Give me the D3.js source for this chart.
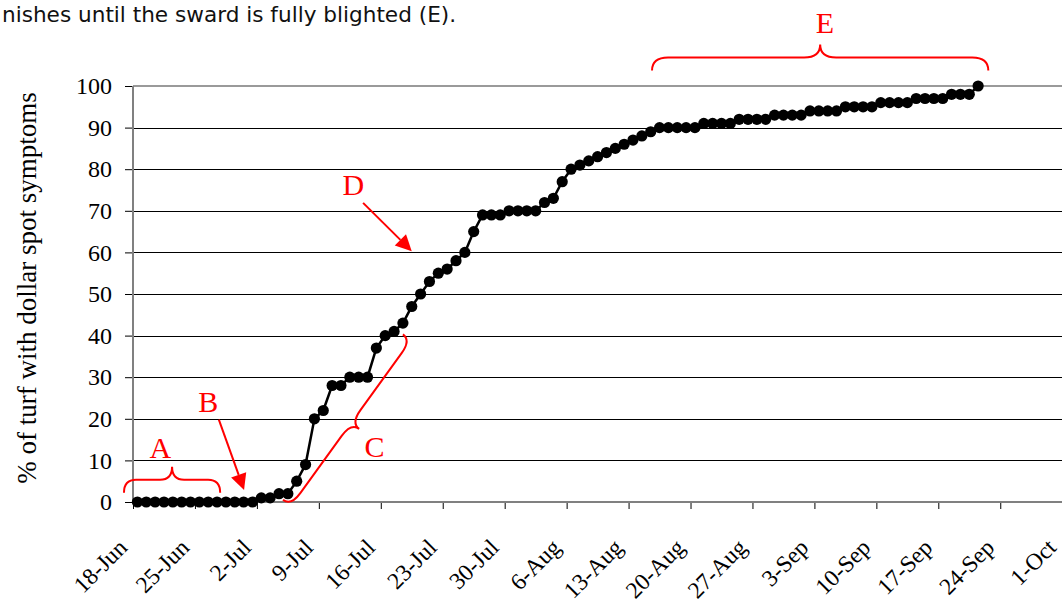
<!DOCTYPE html>
<html>
<head>
<meta charset="utf-8">
<script src="https://cdn.jsdelivr.net/npm/d3@7/dist/d3.min.js"></script>
<style>
  html, body { margin: 0; padding: 0; background: #fff; overflow: hidden; }
  svg { display: block; }
</style>
</head>
<body>
<svg id="chart" width="1062" height="603"></svg>
<script>
// ---------------- data ----------------
const startDay = "2004-06-18";            // first observation (18-Jun)
const pctTurf = [
  0,0,0,0,0,0,0,0,0,0,0,0,0,0,
  1,1,2,2,5,9,20,22,28,28,
  30,30,30,37,40,41,43,47,50,53,
  55,56,58,60,65,69,69,69,70,70,
  70,70,72,73,77,80,81,82,83,84,
  85,86,87,88,89,90,90,90,90,90,
  91,91,91,91,92,92,92,92,93,93,
  93,93,94,94,94,94,95,95,95,95,
  96,96,96,96,97,97,97,97,98,98,
  98,100
];
const xTickLabels = ["18-Jun","25-Jun","2-Jul","9-Jul","16-Jul","23-Jul","30-Jul","6-Aug",
                     "13-Aug","20-Aug","27-Aug","3-Sep","10-Sep","17-Sep","24-Sep","1-Oct"];
const yTicks = [0,10,20,30,40,50,60,70,80,90,100];
const yTitle = "% of turf with dollar spot symptoms";
const captionText = "nishes until the sward is fully blighted (E).";
const annotationLetters = ["A","B","C","D","E"];

// ---------------- setup ----------------
const parse = d3.timeParse("%Y-%m-%d");
const t0 = parse(startDay);
const dates = pctTurf.map((v, i) => d3.timeDay.offset(t0, i));
const tickDates = xTickLabels.map((l, i) => d3.timeDay.offset(t0, i * 7));

const M = { left: 133, right: 1062.2, top: 86, bottom: 502 };
const x = d3.scaleTime().domain([t0, tickDates[tickDates.length - 1]]).range([M.left, M.right]);
const y = d3.scaleLinear().domain([0, 100]).range([M.bottom, M.top]);
const xc = d => x(d3.timeHour.offset(d, 12));   // points centred in their day slot
const xd = days => x(new Date(t0.getTime() + days * 864e5));

const svg = d3.select("#chart");
const serif = "Liberation Serif, Times New Roman, serif";
const red = "#ff0000";

// caption fragment at top
svg.append("text")
  .attr("x", 2).attr("y", 22)
  .style("font-family", "DejaVu Sans, Verdana, sans-serif")
  .style("font-size", "21.6px")
  .attr("fill", "#111")
  .text(captionText);

// gridlines
svg.append("g").selectAll("line").data(yTicks.filter(v => v > 0 && v < 100)).join("line")
  .attr("x1", M.left).attr("x2", 1062)
  .attr("y1", d => Math.round(y(d)) + 0.5).attr("y2", d => Math.round(y(d)) + 0.5)
  .attr("stroke", "#000").attr("stroke-width", 1);
// plot area top border
svg.append("line").attr("x1", M.left).attr("x2", 1062)
  .attr("y1", y(100)).attr("y2", y(100))
  .attr("stroke", "#9a9a9a").attr("stroke-width", 2);

// y axis
const yAxis = svg.append("g").attr("transform", `translate(${M.left},0)`)
  .call(d3.axisLeft(y).tickValues(yTicks).tickSize(8).tickPadding(13).tickFormat(d3.format("d")));
yAxis.select(".domain").remove();
yAxis.attr("font-family", null).attr("font-size", null);
yAxis.selectAll(".tick line").attr("stroke", "#000");
yAxis.selectAll("text").style("font-family", serif).style("font-size", "24px").attr("fill", "#000");

// x axis
const xAxis = svg.append("g").attr("transform", `translate(0,${M.bottom})`)
  .call(d3.axisBottom(x).tickValues(tickDates).tickSize(7).tickFormat((d, i) => xTickLabels[i]));
xAxis.select(".domain").remove();
xAxis.attr("font-family", null).attr("font-size", null);
xAxis.selectAll(".tick line").attr("stroke", "#000");
xAxis.selectAll("text")
  .style("font-family", serif).style("font-size", "23.5px").attr("fill", "#000")
  .attr("x", 0).attr("y", 0).attr("dy", 0)
  .attr("text-anchor", "end")
  .attr("transform", "translate(-5,47) rotate(-45)");

// axis lines (grey, Excel style)
svg.append("line").attr("x1", M.left).attr("x2", M.left).attr("y1", M.top).attr("y2", M.bottom + 1)
  .attr("stroke", "#808080").attr("stroke-width", 2);
svg.append("line").attr("x1", M.left - 1).attr("x2", 1062).attr("y1", M.bottom).attr("y2", M.bottom)
  .attr("stroke", "#808080").attr("stroke-width", 2);

// y title
svg.append("text")
  .attr("transform", `translate(36,288) rotate(-90)`)
  .attr("text-anchor", "middle")
  .style("font-family", serif).style("font-size", "27px").attr("fill", "#000")
  .text(yTitle);

// series
const series = dates.map((d, i) => ({ d, v: pctTurf[i] }));
svg.append("path").datum(series)
  .attr("fill", "none").attr("stroke", "#000").attr("stroke-width", 2.5)
  .attr("d", d3.line().x(p => xc(p.d)).y(p => y(p.v)));
svg.append("g").selectAll("circle").data(series).join("circle")
  .attr("cx", p => xc(p.d)).attr("cy", p => y(p.v)).attr("r", 5.6).attr("fill", "#000");

// ---------------- annotations ----------------
const ann = svg.append("g").attr("fill", "none").attr("stroke", red).attr("stroke-width", 2);

// brace in local coords: from (0,0) to (L,0), tip at (L/2, h2), straight part at h1
function bracePath(L, h1, h2) {
  const r = Math.min(16, L / 8), m = L / 2;
  return `M0,0 Q0,${h1} ${r},${h1} L${m - r},${h1} Q${m},${h1} ${m},${h2} ` +
         `Q${m},${h1} ${m + r},${h1} L${L - r},${h1} Q${L},${h1} ${L},0`;
}
function brace(p1, p2, h1, h2) {
  const dx = p2[0] - p1[0], dy = p2[1] - p1[1];
  const L = Math.hypot(dx, dy), ang = Math.atan2(dy, dx) * 180 / Math.PI;
  ann.append("path")
    .attr("transform", `translate(${p1[0]},${p1[1]}) rotate(${ang})`)
    .attr("d", bracePath(L, h1, h2));
}
function arrow(p1, p2) {
  const dx = p2[0] - p1[0], dy = p2[1] - p1[1];
  const L = Math.hypot(dx, dy), ux = dx / L, uy = dy / L;
  const hl = 16, hw = 8;
  const bx = p2[0] - ux * hl, by = p2[1] - uy * hl;
  ann.append("line").attr("x1", p1[0]).attr("y1", p1[1]).attr("x2", bx).attr("y2", by);
  svg.append("path")
    .attr("d", `M${p2[0]},${p2[1]} L${bx - uy * hw},${by + ux * hw} L${bx + uy * hw},${by - ux * hw} Z`)
    .attr("fill", red);
}
function letter(t, p) {
  svg.append("text").attr("x", p[0]).attr("y", p[1]).attr("text-anchor", "middle")
    .style("font-family", serif).style("font-size", "30px").attr("fill", red).text(t);
}
const P = (days, v) => [xd(days), y(v)];

// A: brace over the lag phase (drawn right-to-left so the tip points up)
brace(P(9.85, 2.2), P(-1.02, 2.2), 13, 26);
letter(annotationLetters[0], P(3.1, 10.6));
// B: arrow to onset
arrow(P(9.7, 19.8), P(12.55, 2.9));
letter(annotationLetters[1], P(8.5, 21.7));
// C: diagonal brace along the steep rise (tip toward lower right)
brace(P(16.95, 0.5), P(30.5, 40.3), 10, 20);
letter(annotationLetters[2], P(27.3, 10.8));
// D: arrow to the middle of the epidemic
arrow(P(26, 71.9), P(31.5, 60.3));
letter(annotationLetters[3], P(24.9, 73.8));
// E: brace over the plateau
brace(P(96.65, 103.7), P(58.65, 103.7), 13, 26);
letter(annotationLetters[4], P(78.2, 112.7));
</script>
</body>
</html>
